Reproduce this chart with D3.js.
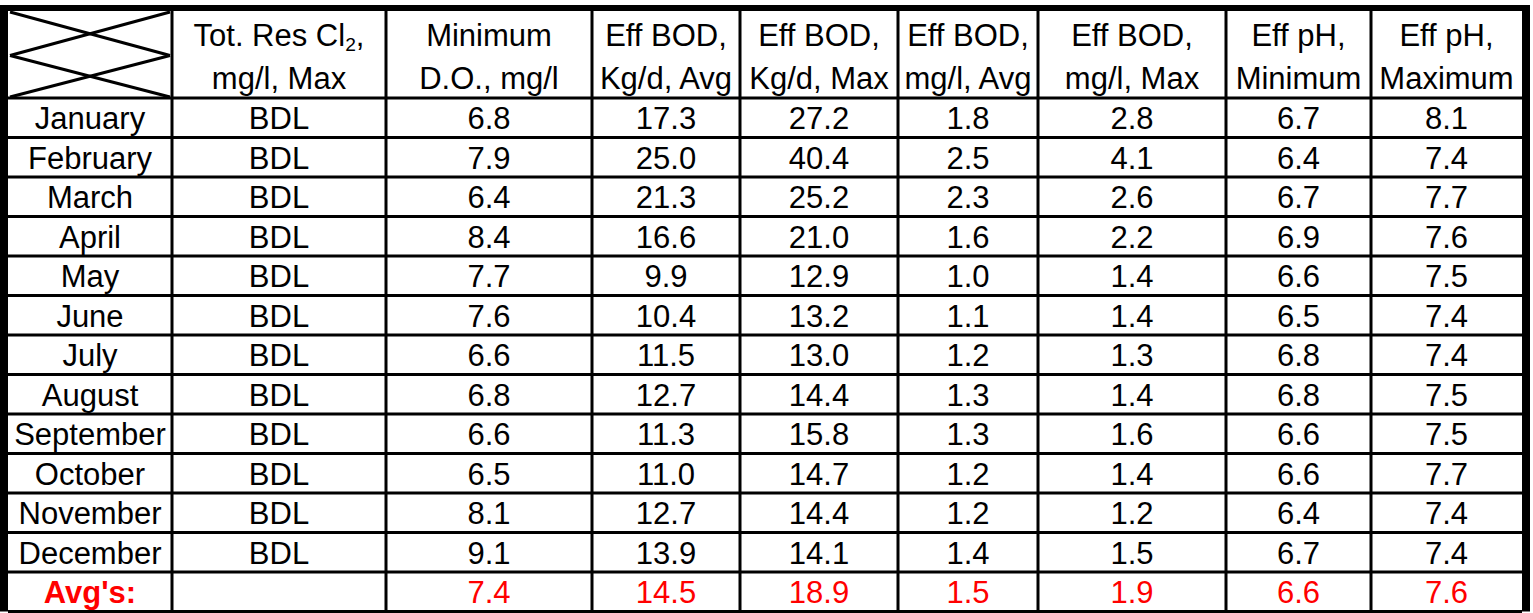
<!DOCTYPE html>
<html lang="en">
<head>
  <meta charset="UTF-8">
  <title>Monthly Effluent Table</title>
  <style>
    body { margin: 0; background: #ffffff; }
    svg { display: block; }
    text { font-family: "Liberation Sans", Arial, sans-serif; }
  </style>
  <script src="https://cdn.jsdelivr.net/npm/d3@7"></script>
</head>
<body>
<div id="chart"></div>
<script>
  // table contents
  var months = ["January", "February", "March", "April", "May", "June", "July",
    "August", "September", "October", "November", "December"];
  var headLine1 = ["Tot. Res Cl", "Minimum", "Eff BOD,", "Eff BOD,", "Eff BOD,", "Eff BOD,", "Eff pH,", "Eff pH,"];
  var headLine2 = ["mg/l, Max", "D.O., mg/l", "Kg/d, Avg", "Kg/d, Max", "mg/l, Avg", "mg/l, Max", "Minimum", "Maximum"];
  var totResCl2 = ["BDL", "BDL", "BDL", "BDL", "BDL", "BDL", "BDL", "BDL", "BDL", "BDL", "BDL", "BDL"];
  var minDO = [6.8, 7.9, 6.4, 8.4, 7.7, 7.6, 6.6, 6.8, 6.6, 6.5, 8.1, 9.1];
  var bodKgAvg = [17.3, 25.0, 21.3, 16.6, 9.9, 10.4, 11.5, 12.7, 11.3, 11.0, 12.7, 13.9];
  var bodKgMax = [27.2, 40.4, 25.2, 21.0, 12.9, 13.2, 13.0, 14.4, 15.8, 14.7, 14.4, 14.1];
  var bodMgAvg = [1.8, 2.5, 2.3, 1.6, 1.0, 1.1, 1.2, 1.3, 1.3, 1.2, 1.2, 1.4];
  var bodMgMax = [2.8, 4.1, 2.6, 2.2, 1.4, 1.4, 1.3, 1.4, 1.6, 1.4, 1.2, 1.5];
  var phMin = [6.7, 6.4, 6.7, 6.9, 6.6, 6.5, 6.8, 6.8, 6.6, 6.6, 6.4, 6.7];
  var phMax = [8.1, 7.4, 7.7, 7.6, 7.5, 7.4, 7.4, 7.5, 7.5, 7.7, 7.4, 7.4];
  var avgLabel = "Avg's:";
  var avgs = ["", 7.4, 14.5, 18.9, 1.5, 1.9, 6.6, 7.6];

  var columns = [totResCl2, minDO, bodKgAvg, bodKgMax, bodMgAvg, bodMgMax, phMin, phMax];

  // layout
  var width = 1533, height = 613;
  var colEdges = [8, 172, 386, 592, 740, 898, 1038, 1226, 1371, 1522];
  var headTop = 11, headBottom = 98, tableBottom = 611.5;
  var fontSize = 31;

  var svg = d3.select("#chart").append("svg")
    .attr("width", width)
    .attr("height", height);

  var rowKeys = months.concat([avgLabel]);
  var y = d3.scaleBand().domain(rowKeys).range([headBottom, tableBottom]).padding(0);
  var x = d3.scaleOrdinal().domain(d3.range(colEdges.length)).range(colEdges);
  var colMid = function(i) { return (x(i) + x(i + 1)) / 2; };

  function fmt(v) {
    return typeof v === "number" ? d3.format(".1f")(v) : v;
  }

  // header cell X lines
  var hx0 = x(0) + 2, hx1 = x(1) - 2, hmid = (headTop + headBottom) / 2 + 1;
  var crossLines = [
    [hx0, headTop + 1, hx1, hmid], [hx0, hmid, hx1, headTop + 1],
    [hx0, hmid, hx1, headBottom - 1], [hx0, headBottom - 1, hx1, hmid]
  ];
  svg.append("g").selectAll("line").data(crossLines).join("line")
    .attr("x1", d => d[0]).attr("y1", d => d[1])
    .attr("x2", d => d[2]).attr("y2", d => d[3])
    .attr("stroke", "#000").attr("stroke-width", 3);

  // header text
  var head = svg.append("g").attr("font-size", fontSize).attr("text-anchor", "middle").attr("fill", "#000");
  headLine1.forEach(function(t, i) {
    var tx = head.append("text").attr("x", colMid(i + 1)).attr("y", 46);
    if (i === 0) {
      tx.append("tspan").text(t);
      tx.append("tspan").attr("font-size", fontSize * 0.62).attr("dy", 5).text("2");
      tx.append("tspan").attr("dy", -5).text(",");
    } else {
      tx.text(t);
    }
  });
  headLine2.forEach(function(t, i) {
    head.append("text").attr("x", colMid(i + 1)).attr("y", 89).text(t);
  });

  // body rows
  var body = svg.append("g").attr("font-size", fontSize).attr("text-anchor", "middle");
  months.forEach(function(m, r) {
    var ty = y(m) + 31;
    body.append("text").attr("x", colMid(0)).attr("y", ty).attr("fill", "#000").text(m);
    columns.forEach(function(col, c) {
      body.append("text").attr("x", colMid(c + 1)).attr("y", ty).attr("fill", "#000").text(fmt(col[r]));
    });
  });
  var ay = y(avgLabel) + 31;
  body.append("text").attr("x", colMid(0)).attr("y", ay).attr("fill", "#ff0000")
    .attr("font-weight", "bold").text(avgLabel);
  avgs.forEach(function(v, c) {
    body.append("text").attr("x", colMid(c + 1)).attr("y", ay).attr("fill", "#ff0000").text(fmt(v));
  });

  // grid lines
  var grid = svg.append("g").attr("stroke", "#000").attr("stroke-width", 3);
  grid.selectAll("line.h").data([headBottom].concat(rowKeys.map(k => y(k) + y.bandwidth()))).join("line")
    .attr("class", "h")
    .attr("x1", x(0)).attr("x2", x(colEdges.length - 1))
    .attr("y1", d => d).attr("y2", d => d);
  grid.selectAll("line.v").data(colEdges.slice(1, -1)).join("line")
    .attr("class", "v")
    .attr("x1", d => d).attr("x2", d => d)
    .attr("y1", headTop).attr("y2", tableBottom);

  // heavy outer frame (top, left, right)
  svg.append("rect").attr("x", 0).attr("y", 5).attr("width", 1530).attr("height", 6).attr("fill", "#000");
  svg.append("rect").attr("x", 0).attr("y", 5).attr("width", 8).attr("height", tableBottom - 5).attr("fill", "#000");
  svg.append("rect").attr("x", 1522).attr("y", 5).attr("width", 8).attr("height", tableBottom - 5).attr("fill", "#000");
</script>
</body>
</html>
